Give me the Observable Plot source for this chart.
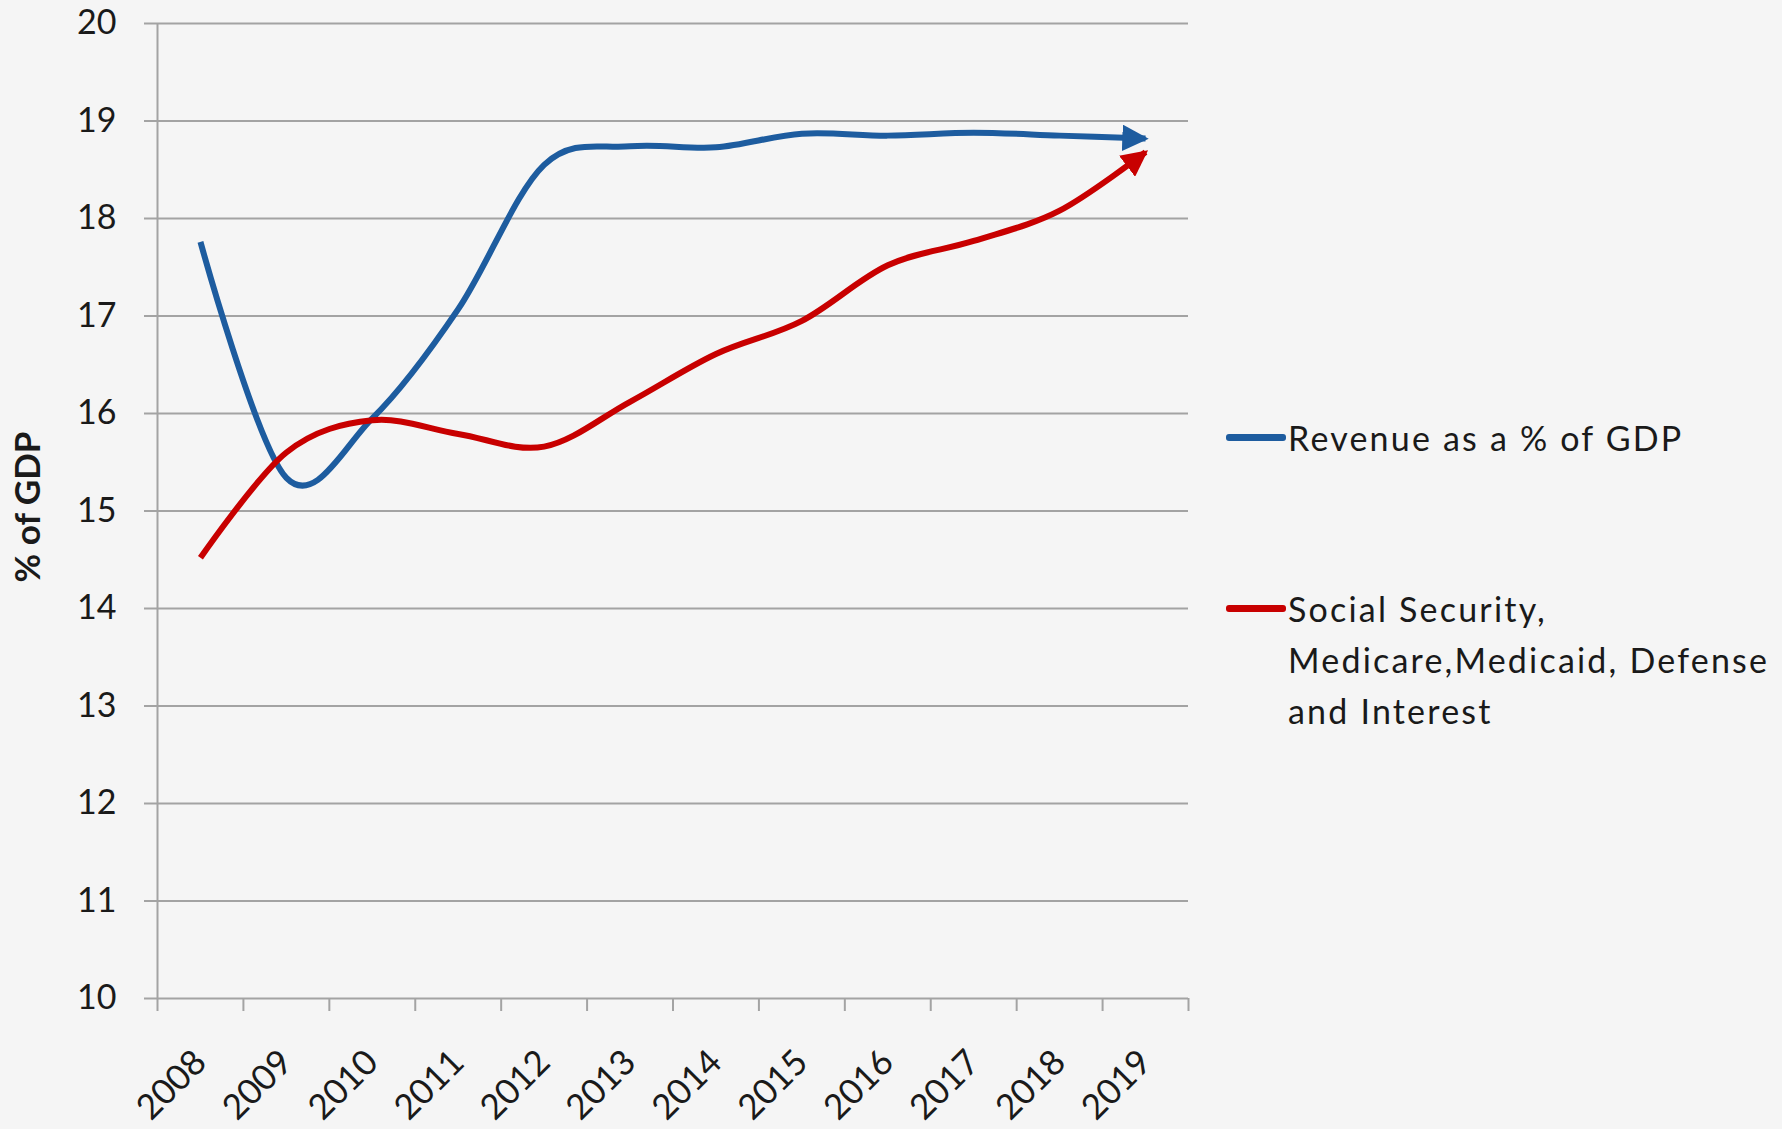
<!DOCTYPE html>
<html>
<head>
<meta charset="utf-8">
<script src="https://cdn.jsdelivr.net/npm/d3@7"></script>
<script src="https://cdn.jsdelivr.net/npm/@observablehq/plot@0.6"></script>
<style>
  html, body { margin: 0; padding: 0; background: #f5f5f5; }
  #wrap { position: relative; width: 1782px; height: 1129px; overflow: hidden; font-family: Lato, "Open Sans", sans-serif; }
  #wrap svg { position: absolute; left: 0; top: 0; }
  .leg { position: absolute; left: 1226px; font-size: 34px; line-height: 51px; letter-spacing: 2.2px; color: #1a1a1a; white-space: pre-line; }
  .leg .sw { position: absolute; left: 0; top: 22px; width: 60px; height: 7px; border-radius: 3px; }
  .leg .tx { margin-left: 62px; }
</style>
</head>
<body>
<div id="wrap"></div>
<script>
// ---- data ----
const years = [2008, 2009, 2010, 2011, 2012, 2013, 2014, 2015, 2016, 2017, 2018, 2019];
const revenue = [17.76, 15.34, 15.95, 17.07, 18.55, 18.74, 18.73, 18.87, 18.85, 18.88, 18.85, 18.82];
const spending = [14.52, 15.60, 15.93, 15.79, 15.66, 16.12, 16.61, 16.95, 17.52, 17.77, 18.08, 18.68];
const seriesNames = ["Revenue as a % of GDP", "Social Security, Medicare,Medicaid, Defense and Interest"];
const legendLabels = ["Revenue as a % of GDP", "Social Security,\nMedicare,Medicaid, Defense\nand Interest"];
const seriesColors = ["#1d5c9f", "#c80000"];
const yTicks = [10, 11, 12, 13, 14, 15, 16, 17, 18, 19, 20];
const yTitle = "% of GDP";

const data = [
  ...years.map((yr, i) => ({year: yr, value: revenue[i], series: seriesNames[0]})),
  ...years.map((yr, i) => ({year: yr, value: spending[i], series: seriesNames[1]}))
];
// category boundaries (ticks sit between categories)
const boundaries = [...years.map(y => y - 0.5), years[years.length - 1] + 0.5];

const gridColor = "#a3a3a3";

const chart = Plot.plot({
  width: 1782,
  height: 1129,
  marginLeft: 157,
  marginRight: 594,
  marginTop: 23,
  marginBottom: 131,
  style: {background: "transparent", fontFamily: "Lato, 'Open Sans', sans-serif", color: "#1a1a1a", overflow: "visible"},
  x: {domain: [boundaries[0], boundaries[boundaries.length - 1]]},
  y: {domain: [yTicks[0], yTicks[yTicks.length - 1]]},
  color: {domain: seriesNames, range: seriesColors},
  marks: [
    Plot.gridY(yTicks, {stroke: gridColor, strokeOpacity: 1, strokeWidth: 2}),
    Plot.ruleX([boundaries[0]], {stroke: gridColor, strokeWidth: 2}),
    Plot.axisY(yTicks, {tickSize: 13, tickPadding: 28, stroke: gridColor, strokeWidth: 2, strokeOpacity: 1, fontSize: 34, label: null, tickFormat: d => String(d)}),
    Plot.axisX(boundaries, {tickSize: 13, stroke: gridColor, strokeWidth: 2, strokeOpacity: 1, tickFormat: () => "", label: null}),
    Plot.axisX(years, {tickSize: 0, tickPadding: 58, tickRotate: -45, fontSize: 35, tickFormat: d => String(d), label: null}),
    Plot.text([yTitle], {frameAnchor: "left", textAnchor: "middle", rotate: -90, dx: -129, dy: -4, fontSize: 35, fontWeight: "bold", fill: "#1a1a1a", text: d => d}),
    Plot.line(data, {x: "year", y: "value", z: "series", stroke: "series", strokeWidth: 6, curve: "cardinal", strokeLinecap: "butt"})
  ]
});

// filled arrowheads at the end of each line
const ns = "http://www.w3.org/2000/svg";
const defs = document.createElementNS(ns, "defs");
chart.insertBefore(defs, chart.firstChild);
const linePaths = chart.querySelectorAll('g[aria-label="line"] path');
linePaths.forEach((p, i) => {
  const col = p.getAttribute("stroke");
  const m = document.createElementNS(ns, "marker");
  m.setAttribute("id", "arrowhead-" + i);
  m.setAttribute("viewBox", "0 -5 10 10");
  m.setAttribute("refX", "8.8");
  m.setAttribute("refY", "0");
  m.setAttribute("markerWidth", "4.4");
  m.setAttribute("markerHeight", "4.4");
  m.setAttribute("markerUnits", "strokeWidth");
  m.setAttribute("orient", "auto");
  const mp = document.createElementNS(ns, "path");
  mp.setAttribute("d", "M0,-5L10,0L0,5Z");
  mp.setAttribute("fill", col);
  mp.setAttribute("stroke", "none");
  m.appendChild(mp);
  defs.appendChild(m);
  p.setAttribute("marker-end", `url(#arrowhead-${i})`);
});

const wrap = document.getElementById("wrap");
wrap.appendChild(chart);

// legend (right side)
const legendTops = [412, 583];
legendLabels.forEach((lab, i) => {
  const d = document.createElement("div");
  d.className = "leg";
  d.style.top = legendTops[i] + "px";
  const sw = document.createElement("span");
  sw.className = "sw";
  sw.style.background = seriesColors[i];
  const tx = document.createElement("div");
  tx.className = "tx";
  tx.textContent = lab;
  d.appendChild(sw);
  d.appendChild(tx);
  wrap.appendChild(d);
});
</script>
</body>
</html>
